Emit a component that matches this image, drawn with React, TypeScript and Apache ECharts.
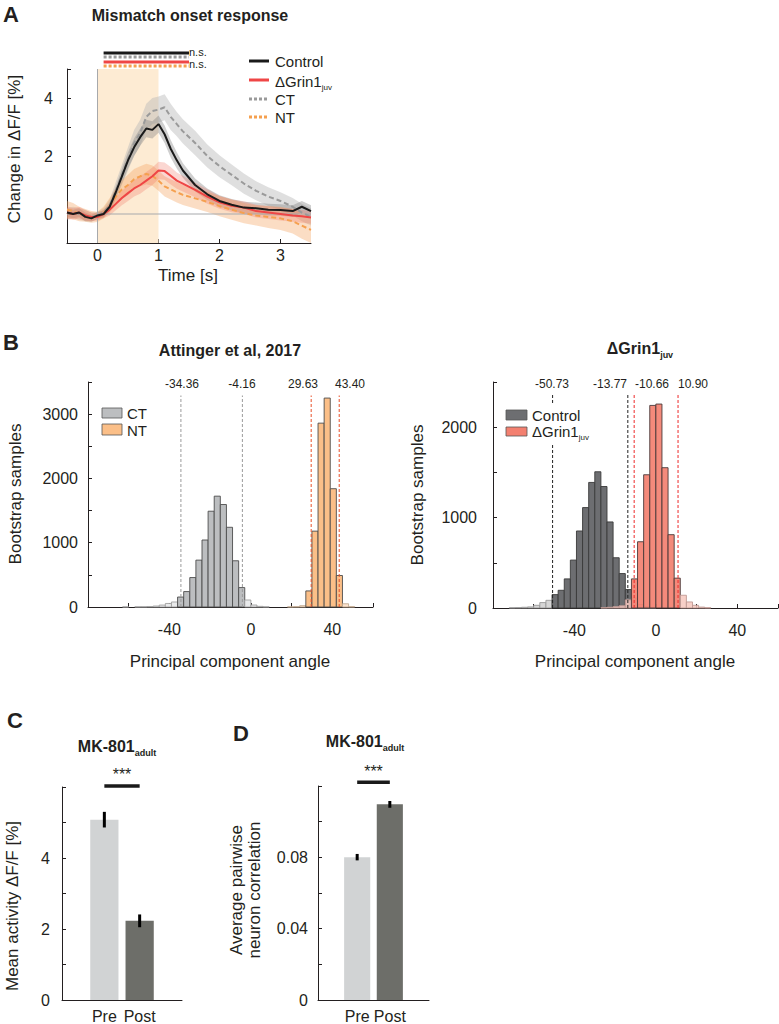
import React, { useEffect, useRef } from 'react';
import * as echarts from 'echarts';

const FONT = "'Liberation Sans', Arial, Helvetica, sans-serif";
const INK = '#231f20';

// ---------------- Panel A: mismatch onset response ----------------
const timeS = [-0.5, -0.4, -0.3, -0.2, -0.1, 0, 0.1, 0.2, 0.3, 0.4, 0.5, 0.6, 0.7, 0.8, 0.9, 1.0, 1.1, 1.2, 1.3, 1.4, 1.6, 1.8, 2.0, 2.2, 2.4, 2.6, 2.8, 3.0, 3.2, 3.35, 3.5];
const controlMean = [0.05, 0.0, 0.05, -0.1, -0.15, -0.05, 0.0, 0.25, 0.75, 1.3, 1.85, 2.3, 2.65, 2.95, 2.9, 3.1, 2.75, 2.25, 1.85, 1.5, 1.0, 0.68, 0.45, 0.32, 0.22, 0.2, 0.15, 0.14, 0.1, 0.25, 0.1];
const controlErr = [0.15, 0.15, 0.15, 0.15, 0.12, 0.12, 0.12, 0.15, 0.2, 0.25, 0.28, 0.3, 0.3, 0.3, 0.3, 0.3, 0.3, 0.3, 0.28, 0.25, 0.22, 0.2, 0.2, 0.2, 0.2, 0.2, 0.2, 0.2, 0.2, 0.2, 0.2];
const grinMean = [0.05, 0.0, 0.05, -0.05, -0.1, -0.1, 0.0, 0.15, 0.35, 0.55, 0.72, 0.88, 1.0, 1.15, 1.3, 1.5, 1.48, 1.32, 1.15, 1.05, 0.83, 0.6, 0.4, 0.28, 0.22, 0.1, 0.05, 0.0, -0.05, -0.08, -0.12];
const grinErr = [0.22, 0.2, 0.2, 0.18, 0.15, 0.12, 0.15, 0.2, 0.22, 0.25, 0.27, 0.28, 0.3, 0.3, 0.3, 0.3, 0.3, 0.3, 0.28, 0.27, 0.25, 0.25, 0.22, 0.22, 0.22, 0.22, 0.22, 0.22, 0.22, 0.22, 0.22];
const ctMean = [0.0, 0.05, 0.0, -0.05, -0.1, -0.05, 0.05, 0.3, 0.8, 1.35, 1.9, 2.45, 2.8, 3.35, 3.55, 3.6, 3.68, 3.35, 3.1, 2.85, 2.45, 2.0, 1.65, 1.35, 1.05, 0.8, 0.6, 0.45, 0.25, 0.05, -0.1];
const ctErr = [0.2, 0.2, 0.2, 0.2, 0.15, 0.12, 0.15, 0.2, 0.3, 0.35, 0.4, 0.45, 0.45, 0.45, 0.45, 0.45, 0.45, 0.45, 0.42, 0.42, 0.42, 0.4, 0.38, 0.36, 0.35, 0.33, 0.32, 0.3, 0.3, 0.3, 0.3];
const ntMean = [0.15, 0.1, 0.0, -0.05, -0.1, -0.1, 0.05, 0.3, 0.6, 0.85, 1.0, 1.2, 1.3, 1.38, 1.32, 1.15, 0.95, 0.85, 0.75, 0.66, 0.54, 0.42, 0.27, 0.15, 0.03, -0.05, -0.1, -0.15, -0.25, -0.4, -0.55];
const ntErr = [0.3, 0.28, 0.25, 0.22, 0.2, 0.18, 0.2, 0.25, 0.3, 0.32, 0.35, 0.35, 0.35, 0.35, 0.35, 0.35, 0.35, 0.35, 0.35, 0.35, 0.35, 0.35, 0.35, 0.35, 0.35, 0.35, 0.38, 0.4, 0.42, 0.45, 0.45];
const stimWindow = [0, 1];
const sigSpan = [0.1, 1.5];
const sigLevels = [5.55, 5.41, 5.24, 5.1];

// ---------------- Panel B: bootstrap histograms ----------------
const binWidth = 3;
const ctBinCenters = [-61.5, -55.5, -52.5, -49.5, -46.5, -43.5, -40.5, -37.5, -34.5, -31.5, -28.5, -25.5, -22.5, -19.5, -16.5, -13.5, -10.5, -7.5, -4.5, -1.5, 1.5, 4.5, 7.5];
const ctCounts = [2, 3, 4, 8, 15, 30, 55, 78, 155, 240, 458, 729, 1042, 1490, 1724, 1594, 1240, 719, 302, 109, 31, 10, 3];
const ntBinCenters = [19.5, 22.5, 25.5, 28.5, 31.5, 34.5, 37.5, 40.5, 43.5, 46.5, 49.5];
const ntCounts = [2, 5, 20, 250, 1180, 2860, 3250, 1840, 490, 50, 5];
const ctCI = [-34.36, -4.16];
const ntCI = [29.63, 43.4];

const ctrlBinCenters = [-70.5, -67.5, -64.5, -61.5, -58.5, -55.5, -52.5, -49.5, -46.5, -43.5, -40.5, -37.5, -34.5, -31.5, -28.5, -25.5, -22.5, -19.5, -16.5, -13.5, -10.5, -7.5, -4.5, -1.5];
const ctrlCounts = [3, 5, 8, 12, 30, 60, 85, 148, 196, 322, 530, 852, 1111, 1389, 1507, 1344, 952, 556, 381, 204, 110, 40, 15, 5];
const grinBinCenters = [-25.5, -22.5, -19.5, -16.5, -13.5, -10.5, -7.5, -4.5, -1.5, 1.5, 4.5, 7.5, 10.5, 13.5, 16.5, 19.5, 22.5, 25.5];
const grinCounts = [3, 8, 15, 25, 90, 322, 733, 1474, 2241, 2256, 1552, 811, 330, 141, 67, 30, 10, 3];
const ctrlCI = [-50.73, -13.77];
const grinCI = [-10.66, 10.9];

// ---------------- Panels C & D ----------------
const condLabels = ['Pre', 'Post'];
const condPos = [1, 2];
const activityMean = [5.08, 2.23];
const activityErr = [0.22, 0.18];
const corrMean = [0.0801, 0.1097];
const corrErr = [0.0018, 0.0019];

const txt = (x: number, y: number, text: string, size = 16, extra: any = {}) => ({
  type: 'text', x, y, silent: true, z: 100,
  style: { text, fontSize: size, fontFamily: FONT, fill: INK, align: 'center', verticalAlign: 'middle', ...extra },
});
const rtxt = (x: number, y: number, text: string, size = 17, extra: any = {}) => ({
  type: 'text', x, y, rotation: Math.PI / 2, silent: true, z: 100,
  style: { text, fontSize: size, fontFamily: FONT, fill: INK, align: 'center', verticalAlign: 'middle', ...extra },
});
const subTxt = (x: number, y: number, main: string, sub: string, size: number, weight: string, align = 'center') => ({
  type: 'text', x, y, silent: true, z: 100,
  style: {
    text: `{m|${main}}{s|${sub}}`, align, verticalAlign: 'middle', fill: INK,
    rich: {
      m: { fontSize: size, fontWeight: weight, fontFamily: FONT, fill: INK, color: INK, lineHeight: size + 6 },
      s: { fontSize: Math.round(size * 0.55), fontWeight: weight, fontFamily: FONT, fill: INK, color: INK, verticalAlign: 'bottom', lineHeight: Math.round(size * 0.55) + 1 },
    },
  },
});
const gline = (x1: number, y1: number, x2: number, y2: number, stroke: string, lineWidth: number, lineDash?: number[]) => ({
  type: 'line', silent: true, z: 100,
  shape: { x1, y1, x2, y2 },
  style: { stroke, lineWidth, lineDash },
});
const grect = (x: number, y: number, w: number, h: number, fill: string, stroke = '#555', lineWidth = 0.8) => ({
  type: 'rect', silent: true, z: 100,
  shape: { x, y, width: w, height: h },
  style: { fill, stroke, lineWidth },
});

function mkX(gridIndex: number, min: number, max: number, ticks: number[], labels: number[], fmt?: (v: number) => string, margin = 8) {
  return {
    type: 'value', gridIndex, min, max, position: 'bottom',
    axisLine: { show: true, onZero: false, lineStyle: { color: INK, width: 1 } },
    axisTick: { show: true, inside: true, length: 4, customValues: ticks, lineStyle: { color: INK } },
    axisLabel: { show: true, customValues: labels, color: INK, fontSize: 16, fontFamily: FONT, margin, formatter: fmt || ((v: number) => String(v)) },
    splitLine: { show: false },
  };
}
function mkY(gridIndex: number, min: number, max: number, ticks: number[], labels: number[], fmt?: (v: number) => string, margin = 10) {
  return {
    type: 'value', gridIndex, min, max, position: 'left',
    axisLine: { show: true, onZero: false, lineStyle: { color: INK, width: 1 } },
    axisTick: { show: true, inside: true, length: 4, customValues: ticks, lineStyle: { color: INK } },
    axisLabel: { show: true, customValues: labels, color: INK, fontSize: 16, fontFamily: FONT, margin, formatter: fmt || ((v: number) => String(v)) },
    splitLine: { show: false },
  };
}

function bandSeries(mean: number[], err: number[], fill: string) {
  return {
    type: 'custom', xAxisIndex: 0, yAxisIndex: 0, silent: true, clip: true, z: 2,
    data: [[0, 0]],
    renderItem: (_p: any, api: any) => {
      const up = timeS.map((t, i) => api.coord([t, mean[i] + err[i]]));
      const lo = timeS.map((t, i) => api.coord([t, mean[i] - err[i]])).reverse();
      return { type: 'polygon', shape: { points: up.concat(lo) }, style: { fill } };
    },
  };
}
function lineSeries(mean: number[], color: string, dashed: boolean, z: number) {
  return {
    type: 'line', xAxisIndex: 0, yAxisIndex: 0, silent: true, showSymbol: false, z,
    data: timeS.map((t, i) => [t, mean[i]]),
    lineStyle: { color, width: 2, type: dashed ? [5, 3] : 'solid' },
  };
}
function histSeries(gi: number, centers: number[], counts: number[], ci: number[], inFill: string, outFill: string, inStroke: string, outStroke: string, z: number) {
  return {
    type: 'custom', xAxisIndex: gi, yAxisIndex: gi, silent: true, z,
    data: centers.map((c, i) => [c, counts[i]]),
    encode: { x: 0, y: 1 },
    renderItem: (_p: any, api: any) => {
      const c = api.value(0);
      const v = api.value(1);
      const p1 = api.coord([c - binWidth / 2, v]);
      const p2 = api.coord([c + binWidth / 2, 0]);
      const inside = c + binWidth / 2 > ci[0] && c - binWidth / 2 < ci[1];
      return {
        type: 'rect',
        shape: { x: p1[0], y: p1[1], width: p2[0] - p1[0], height: p2[1] - p1[1] },
        style: { fill: inside ? inFill : outFill, stroke: inside ? inStroke : outStroke, lineWidth: 0.9 },
      };
    },
  };
}
function ciLineSeries(gi: number, vals: number[], top: number, stroke: string) {
  return {
    type: 'custom', xAxisIndex: gi, yAxisIndex: gi, silent: true, z: 20,
    data: vals.map((v) => [v, 0]),
    renderItem: (_p: any, api: any) => {
      const x = api.value(0);
      const p0 = api.coord([x, 0]);
      const p1 = api.coord([x, top]);
      return { type: 'line', shape: { x1: p0[0], y1: p0[1], x2: p1[0], y2: p1[1] }, style: { stroke, lineWidth: 1, lineDash: [3, 2] } };
    },
  };
}
function barSeries(gi: number, means: number[], colors: string[]) {
  return {
    type: 'custom', xAxisIndex: gi, yAxisIndex: gi, silent: true, z: 5,
    data: condPos.map((p, i) => [p, means[i]]),
    encode: { x: 0, y: 1 },
    renderItem: (p: any, api: any) => {
      const x = api.value(0);
      const v = api.value(1);
      const a = api.coord([x - 0.4, v]);
      const b = api.coord([x + 0.4, 0]);
      return { type: 'rect', shape: { x: a[0], y: a[1], width: b[0] - a[0], height: b[1] - a[1] }, style: { fill: colors[p.dataIndex] } };
    },
  };
}
function errSeries(gi: number, means: number[], errs: number[]) {
  return {
    type: 'custom', xAxisIndex: gi, yAxisIndex: gi, silent: true, z: 10,
    data: condPos.map((p, i) => [p, means[i], errs[i]]),
    encode: { x: 0, y: 1 },
    renderItem: (_p: any, api: any) => {
      const x = api.value(0);
      const v = api.value(1);
      const e = api.value(2);
      const a = api.coord([x, v - e]);
      const b = api.coord([x, v + e]);
      return { type: 'line', shape: { x1: a[0], y1: a[1], x2: b[0], y2: b[1] }, style: { stroke: '#000', lineWidth: 3 } };
    },
  };
}
function sigSeries(gi: number, yBar: number, yStar: number) {
  return {
    type: 'custom', xAxisIndex: gi, yAxisIndex: gi, silent: true, clip: false, z: 10,
    data: [[condPos[0], condPos[1]]],
    renderItem: (_p: any, api: any) => {
      const a = api.coord([api.value(0), yBar]);
      const b = api.coord([api.value(1), yBar]);
      const s = api.coord([(api.value(0) + api.value(1)) / 2, yStar]);
      return {
        type: 'group',
        children: [
          { type: 'line', shape: { x1: a[0], y1: a[1], x2: b[0], y2: b[1] }, style: { stroke: '#1a1a1a', lineWidth: 3.5 } },
          { type: 'text', x: s[0], y: s[1], style: { text: '***', fontSize: 16, fontFamily: FONT, fill: INK, align: 'center', verticalAlign: 'middle' } },
        ],
      };
    },
  };
}

function buildOption(): any {
  const series: any[] = [];
  // Panel A
  series.push({
    type: 'custom', xAxisIndex: 0, yAxisIndex: 0, silent: true, z: 1,
    data: [[stimWindow[0], stimWindow[1]]],
    renderItem: (_p: any, api: any) => {
      const a = api.coord([api.value(0), 5]);
      const b = api.coord([api.value(1), -1]);
      return { type: 'rect', shape: { x: a[0], y: a[1], width: b[0] - a[0], height: b[1] - a[1] }, style: { fill: '#fdebd3' } };
    },
  });
  series.push(bandSeries(ctMean, ctErr, 'rgba(185,185,185,0.45)'));
  series.push(bandSeries(controlMean, controlErr, 'rgba(130,130,130,0.38)'));
  series.push(bandSeries(ntMean, ntErr, 'rgba(244,165,100,0.38)'));
  series.push(bandSeries(grinMean, grinErr, 'rgba(240,110,95,0.28)'));
  series.push({ type: 'line', xAxisIndex: 0, yAxisIndex: 0, silent: true, showSymbol: false, z: 3, data: [[0, 0], [3.5, 0]], lineStyle: { color: '#a7a9ac', width: 1 } });
  series.push({ type: 'line', xAxisIndex: 0, yAxisIndex: 0, silent: true, showSymbol: false, z: 3, data: [[0, -1], [0, 5]], lineStyle: { color: '#a7a9ac', width: 1 } });
  series.push(lineSeries(ntMean, '#f5a04f', true, 4));
  series.push(lineSeries(ctMean, '#9a9a9a', true, 4));
  series.push(lineSeries(grinMean, '#ef4646', false, 5));
  series.push(lineSeries(controlMean, '#1a1a1a', false, 6));
  const sigStyles = [
    { color: '#1a1a1a', type: 'solid' },
    { color: '#9a9a9a', type: [3, 2] },
    { color: '#ef4646', type: 'solid' },
    { color: '#f5a04f', type: [3, 2] },
  ];
  sigLevels.forEach((lv, i) => {
    series.push({
      type: 'line', xAxisIndex: 0, yAxisIndex: 0, silent: true, showSymbol: false, clip: false, z: 6,
      data: [[sigSpan[0], lv], [sigSpan[1], lv]],
      lineStyle: { color: sigStyles[i].color, width: 3, type: sigStyles[i].type },
    });
  });

  // Panel B left
  series.push(histSeries(1, ctBinCenters, ctCounts, ctCI, '#bcbec0', '#e9eaeb', '#4d4d4d', '#a0a0a0', 5));
  series.push(histSeries(1, ntBinCenters, ntCounts, ntCI, '#fbbf88', '#fde4cf', '#4d4d4d', '#c0a890', 5));
  series.push(ciLineSeries(1, ctCI, 3290, '#9a9a9a'));
  series.push(ciLineSeries(1, ntCI, 3290, '#e8502a'));
  // Panel B right
  series.push(histSeries(2, ctrlBinCenters, ctrlCounts, ctrlCI, '#6d6e71', '#d6d6d6', '#3a3a3a', '#9a9a9a', 5));
  series.push(histSeries(2, grinBinCenters, grinCounts, grinCI, 'rgba(243,128,112,0.92)', 'rgba(247,200,190,0.85)', '#4a3a3a', '#c09a94', 6));
  series.push(ciLineSeries(2, ctrlCI, 2370, '#222222'));
  series.push(ciLineSeries(2, grinCI, 2370, '#ee2a2a'));

  // Panel C
  series.push(barSeries(3, activityMean, ['#d1d3d4', '#6d6e69']));
  series.push(errSeries(3, activityMean, activityErr));
  series.push(sigSeries(3, 6.03, 6.34));
  // Panel D
  series.push(barSeries(4, corrMean, ['#d1d3d4', '#6d6e69']));
  series.push(errSeries(4, corrMean, corrErr));
  series.push(sigSeries(4, 0.1221, 0.128));

  const graphic: any[] = [
    // panel letters
    txt(11, 14, 'A', 22, { fontWeight: 'bold' }),
    txt(11, 342, 'B', 22, { fontWeight: 'bold' }),
    txt(15, 720, 'C', 22, { fontWeight: 'bold' }),
    txt(241, 733, 'D', 22, { fontWeight: 'bold' }),
    // titles
    txt(190, 15, 'Mismatch onset response', 16, { fontWeight: 'bold' }),
    txt(230, 350, 'Attinger et al, 2017', 16, { fontWeight: 'bold' }),
    subTxt(640, 348, 'ΔGrin1', 'juv', 16, 'bold'),
    subTxt(117, 746, 'MK-801', 'adult', 16, 'bold'),
    subTxt(365, 741, 'MK-801', 'adult', 16, 'bold'),
    // panel A annotations
    txt(189, 52, 'n.s.', 11, { align: 'left', lineHeight: 11 }),
    txt(189, 64, 'n.s.', 11, { align: 'left', lineHeight: 11 }),
    gline(249, 61, 269, 61, '#1a1a1a', 3),
    gline(249, 80, 269, 80, '#ef4646', 3),
    gline(249, 99, 269, 99, '#9a9a9a', 3, [3, 2]),
    gline(249, 117, 269, 117, '#f5a04f', 3, [3, 2]),
    txt(275, 61, 'Control', 15, { align: 'left' }),
    subTxt(275, 81, 'ΔGrin1', 'juv', 15, 'normal', 'left'),
    txt(275, 99, 'CT', 15, { align: 'left' }),
    txt(275, 117, 'NT', 15, { align: 'left' }),
    rtxt(14, 149, 'Change in ΔF/F [%]', 17),
    txt(188, 275, 'Time [s]', 17),
    // panel B annotations
    rtxt(15, 494, 'Bootstrap samples', 17),
    rtxt(417, 495, 'Bootstrap samples', 17),
    txt(230, 661, 'Principal component angle', 17),
    txt(635, 661, 'Principal component angle', 17),
    txt(182, 384, '-34.36', 12),
    txt(242, 384, '-4.16', 12),
    txt(303, 384, '29.63', 12),
    txt(350, 384, '43.40', 12),
    txt(552, 384, '-50.73', 12),
    txt(610, 384, '-13.77', 12),
    txt(652, 384, '-10.66', 12),
    txt(693, 384, '10.90', 12),
    grect(102, 408, 20, 10, '#bcbec0'),
    txt(127, 413, 'CT', 15, { align: 'left' }),
    grect(102, 424, 20, 11, '#fbbf88'),
    txt(127, 430, 'NT', 15, { align: 'left' }),
    { type: 'rect', silent: true, z: 99, shape: { x: 500, y: 403, width: 100, height: 42 }, style: { fill: '#ffffff' } },
    grect(506, 410, 21, 10, '#6d6e71'),
    txt(532, 415, 'Control', 15, { align: 'left' }),
    grect(506, 427, 21, 9, '#f38070'),
    subTxt(532, 431, 'ΔGrin1', 'juv', 15, 'normal', 'left'),
    // panels C & D
    rtxt(12, 906, 'Mean activity ΔF/F [%]', 17),
    rtxt(245, 890, 'Average pairwise\nneuron correlation', 17, { lineHeight: 18 }),
  ];

  return {
    animation: false,
    backgroundColor: '#ffffff',
    grid: [
      { left: 67, top: 69, width: 244, height: 174 },
      { left: 88, top: 382, width: 285, height: 225 },
      { left: 493, top: 382, width: 285, height: 226 },
      { left: 62, top: 787, width: 120, height: 216 },
      { left: 318, top: 786, width: 111, height: 216 },
    ],
    xAxis: [
      mkX(0, -0.5, 3.5, [0, 1, 2, 3], [0, 1, 2, 3], undefined, 4),
      mkX(1, -80, 60, [-60, -40, -20, 0, 20, 40, 60], [-40, 0, 40], undefined, 14),
      mkX(2, -80, 60, [-60, -40, -20, 0, 20, 40, 60], [-40, 0, 40], undefined, 14),
      mkX(3, -0.2, 3.2, condPos, condPos, (v: number) => condLabels[condPos.indexOf(v)] || '', 8),
      mkX(4, -0.2, 3.2, condPos, condPos, (v: number) => condLabels[condPos.indexOf(v)] || '', 8),
    ],
    yAxis: [
      mkY(0, -1, 5, [-1, 0, 1, 2, 3, 4, 5], [0, 2, 4], undefined, 14),
      mkY(1, 0, 3500, [0, 500, 1000, 1500, 2000, 2500, 3000, 3500], [0, 1000, 2000, 3000], undefined, 10),
      mkY(2, 0, 2500, [0, 500, 1000, 1500, 2000, 2500], [0, 1000, 2000], undefined, 16),
      mkY(3, 0, 6, [0, 1, 2, 3, 4, 5, 6], [0, 2, 4], undefined, 12),
      mkY(4, 0, 0.12, [0, 0.02, 0.04, 0.06, 0.08, 0.1, 0.12], [0, 0.04, 0.08], (v: number) => (v === 0 ? '0' : v.toFixed(2)), 10),
    ],
    series,
    graphic,
  };
}

export default function App() {
  const ref = useRef<HTMLDivElement>(null);
  useEffect(() => {
    if (!ref.current) return;
    const chart = echarts.init(ref.current, null, { renderer: 'svg' });
    chart.setOption(buildOption());
    return () => chart.dispose();
  }, []);
  return (
    <div
      ref={ref}
      style={{ position: 'absolute', left: 0, top: 0, width: 779, height: 1024, background: '#ffffff' }}
    />
  );
}
